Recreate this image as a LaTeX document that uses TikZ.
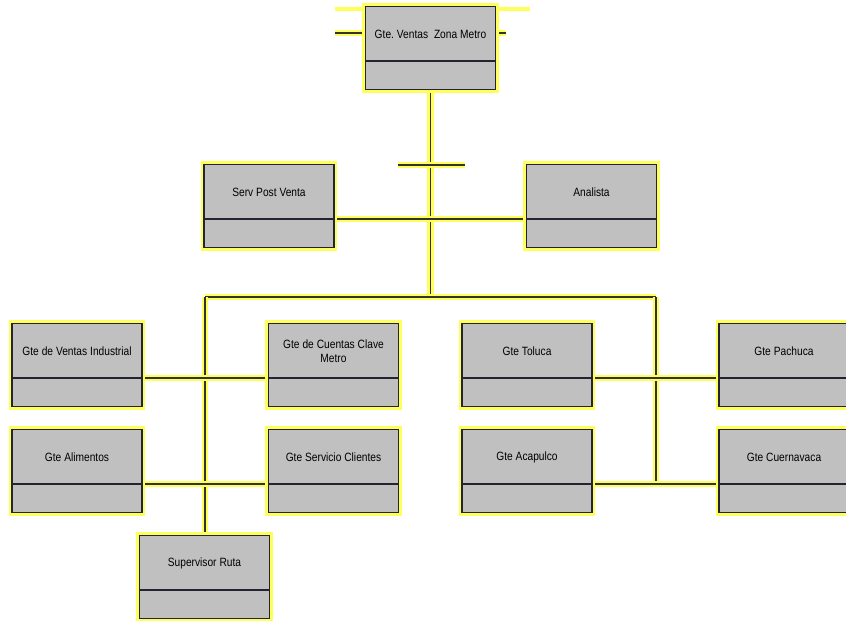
\documentclass[tikz,border=0pt]{standalone}
\usepackage{fontspec}
\newfontfamily\chartfont{Liberation Sans}[FakeStretch=0.85]
\usepackage{xcolor}
\usetikzlibrary{shapes.multipart,backgrounds,calc}
\definecolor{boxline}{RGB}{35,35,50}
\definecolor{boxfill}{RGB}{192,192,192}
\definecolor{halo}{RGB}{255,255,90}
\newcommand{\boxlbl}[1]{\parbox[c][39.75pt][c]{97.5pt}{\centering\frenchspacing\spaceskip=2.2pt\xspaceskip=2.2pt #1}\nodepart{two}\rule{0pt}{20.25pt}}

\begin{document}
\begin{tikzpicture}[
  x=0.75pt,y=-0.75pt,
  orgbox/.style={rectangle split,rectangle split parts=2,draw=boxline,fill=boxfill,line width=0.9pt,
    inner sep=0pt,text width=97.5pt,align=center,font=\chartfont\fontsize{9}{10.5}\selectfont,
    preaction={draw=halo,line width=5pt}},
  conn/.style={draw=black!80,line width=1.3pt,preaction={draw=halo,line width=5pt}},
  glow/.style={draw=halo,line width=3pt}
]
\useasboundingbox (0,0) rectangle (846,621);

\node[orgbox] (gvz) at (430.5,48) {\boxlbl{Gte. Ventas~ Zona Metro}};
\node[orgbox] (spv) at (269,206) {\boxlbl{Serv Post Venta}};
\node[orgbox] (anal) at (591.5,206) {\boxlbl{Analista}};
\node[orgbox] (vind) at (77,365) {\boxlbl{Gte de Ventas Industrial}};
\node[orgbox] (ccm) at (333.5,365) {\boxlbl{Gte de Cuentas Clave\\Metro}};
\node[orgbox] (tol) at (527,365) {\boxlbl{Gte Toluca}};
\node[orgbox] (pach) at (784,365) {\boxlbl{Gte Pachuca}};
\node[orgbox] (alim) at (77,471) {\boxlbl{Gte Alimentos}};
\node[orgbox] (scli) at (333.5,471) {\boxlbl{Gte Servicio Clientes}};
\node[orgbox] (acap) at (527,471) {\boxlbl{Gte Acapulco}};
\node[orgbox] (cuer) at (784,471) {\boxlbl{Gte Cuernavaca}};
\node[orgbox] (ruta) at (204.5,577) {\boxlbl{Supervisor Ruta}};

\coordinate (busL) at (205,297);
\coordinate (busR) at (656,297);
\coordinate (tickL) at (398,165);
\coordinate (tickR) at (465,165);
\coordinate (stubL) at (335,33);
\coordinate (stubR) at (506,33);
\coordinate (edgeL) at (335,9);
\coordinate (edgeR) at (530,9);

\begin{scope}[on background layer]
\draw[glow] (edgeL) -- (edgeR);
\draw[conn] (stubL) -- (stubL -| gvz.west);
\draw[conn] (stubR) -- (stubR -| gvz.east);
\draw[conn] (gvz.south) -- (gvz.south |- busL);
\draw[conn] (tickL) -- (tickR);
\draw[conn] (spv.one split east) -- (anal.one split west);
\draw[conn] (busL) -- (busR);
\draw[conn] (busL) -- (busL |- ruta.north);
\draw[conn] (busR) -- (busR |- cuer.one split west);
\draw[conn] (vind.one split east) -- (ccm.one split west);
\draw[conn] (alim.one split east) -- (scli.one split west);
\draw[conn] (tol.one split east) -- (pach.one split west);
\draw[conn] (acap.one split east) -- (cuer.one split west);
\end{scope}
\end{tikzpicture}
\end{document}
